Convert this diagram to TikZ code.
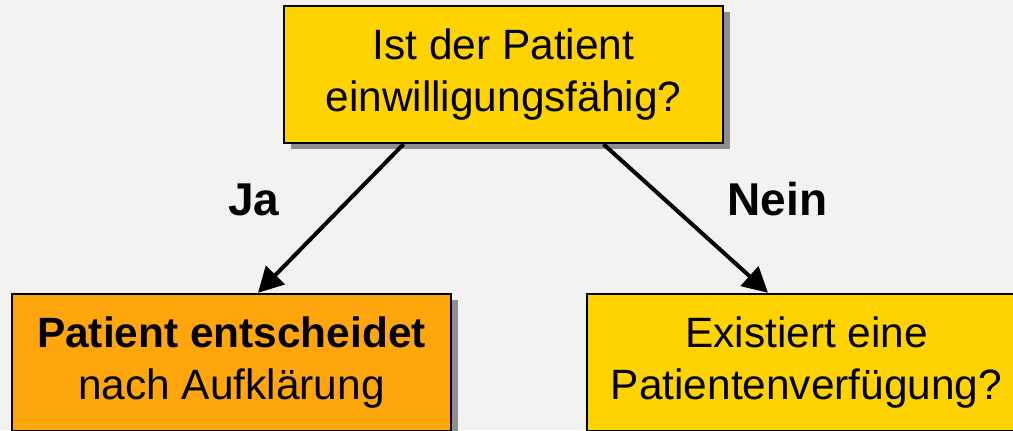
\documentclass[tikz,border=0pt]{standalone}
\usepackage{fontspec}
\setmainfont{Liberation Sans}
\usetikzlibrary{arrows.meta,shadows}

\definecolor{pagegray}{HTML}{F2F2F1}
\definecolor{boxyellow}{HTML}{FFD300}
\definecolor{boxorange}{HTML}{FFA60C}
\definecolor{shadowgray}{HTML}{8E8E8E}

\begin{document}
\begin{tikzpicture}[
	x=0.5pt,
	y=0.5pt,
	flowbox/.style={
		rectangle,
		draw=black,
		line width=1.2pt,
		minimum width=219.5pt,
		minimum height=68.5pt,
		align=center,
		font=\fontsize{21.2}{26}\selectfont,
		drop shadow={shadow xshift=3.5pt, shadow yshift=-3pt, fill=shadowgray, opacity=1}
	},
	questionbox/.style={
		flowbox,
		fill=boxyellow
	},
	answerbox/.style={
		flowbox,
		fill=boxorange
	},
	branchlabel/.style={
		anchor=base,
		font=\fontsize{23}{27}\selectfont\bfseries
	},
	branch/.style={
		line width=2pt,
		-{Triangle[length=12.5pt,width=13pt]}
	}
]

\def\picwidth{1013}
\def\picheight{430}

\fill[pagegray] (0,0) rectangle (\picwidth,\picheight);
\useasboundingbox (0,0) rectangle (\picwidth,\picheight);
\clip (0,0) rectangle (\picwidth,\picheight);

\node[questionbox] (consent) at (503.5,355.5) {Ist der Patient\\einwilligungsfähig?};
\node[answerbox] (decides) at (231.5,67.5) {\textbf{Patient entscheidet}\\nach Aufklärung};
\node[questionbox] (directive) at (806.5,67.5) {Existiert eine\\Patientenverfügung?};

\draw[branch] ([xshift=-50pt]consent.south) -- ([xshift=13.25pt]decides.north);
\draw[branch] ([xshift=50pt]consent.south) -- ([xshift=-19.25pt]directive.north);

\node[branchlabel] (yes) at (254,215) {Ja};
\node[branchlabel] (no) at (777.5,215) {Nein};

\end{tikzpicture}
\end{document}
